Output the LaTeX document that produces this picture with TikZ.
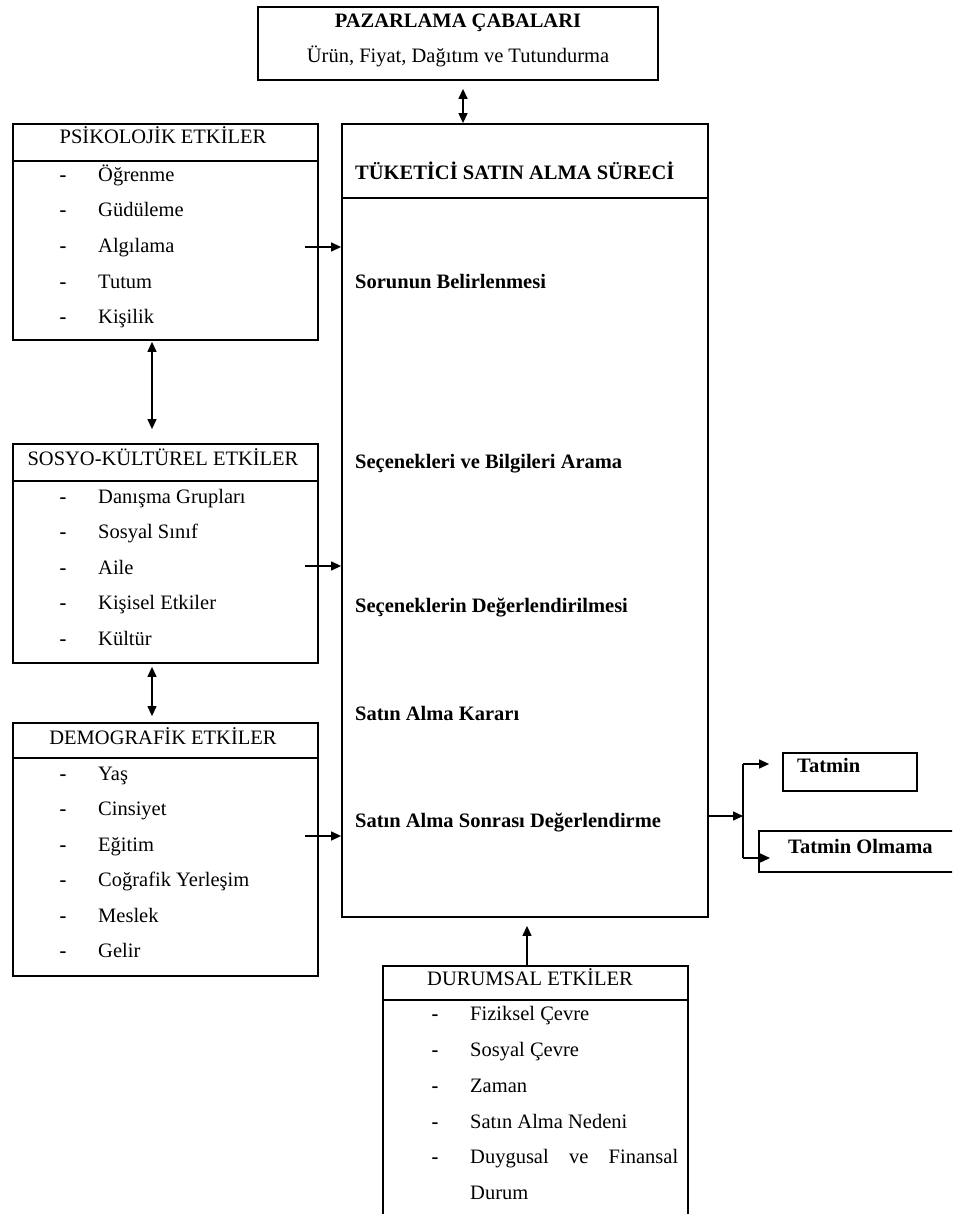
\documentclass[tikz,border=0pt]{standalone}
\usepackage{fontspec}
\setmainfont{Liberation Serif}
\usetikzlibrary{arrows.meta}
\newcommand{\dfont}{\fontsize{20.5}{24}\selectfont}
\tikzset{
  box/.style={draw, line width=1.8pt, rectangle, inner sep=0pt},
  divider/.style={line width=1.8pt},
  txt/.style={anchor=base west, inner sep=0pt, font=\dfont},
  btxt/.style={anchor=base west, inner sep=0pt, font=\dfont\bfseries},
  ctxt/.style={anchor=base, inner sep=0pt, font=\dfont},
  cbtxt/.style={anchor=base, inner sep=0pt, font=\dfont\bfseries},
  dashmark/.style={anchor=base, inner sep=0pt, font=\dfont\bfseries},
  conn/.style={line width=1.3pt, -{Triangle[length=10pt,width=9pt]}},
  dconn/.style={line width=1.3pt, {Triangle[length=10pt,width=9pt]}-{Triangle[length=10pt,width=9pt]}},
  plain/.style={line width=1.3pt},
}
\begin{document}
\begin{tikzpicture}[x=1pt,y=-1pt]
\useasboundingbox (0,0) rectangle (952,1214);
\clip (0,0) rectangle (952,1214);

% ---- boxes
\node[box, minimum width=400pt, minimum height=73pt] (paz) at (458,43.5) {};
\node[box, minimum width=366pt, minimum height=793pt] (main) at (525,520.5) {};
\node[box, minimum width=305pt, minimum height=216pt] (psi) at (165.5,232) {};
\node[box, minimum width=305pt, minimum height=219pt] (sos) at (165.5,553.5) {};
\node[box, minimum width=305pt, minimum height=253pt] (dem) at (165.5,849.5) {};
\node[box, minimum width=305pt, minimum height=264pt] (dur) at (535.5,1098) {};
\node[box, minimum width=134pt, minimum height=38pt] (tat) at (850,772) {};
\node[box, minimum width=231pt, minimum height=41pt] (olm) at (874.5,851.5) {};

% ---- header dividers
\draw[divider] ([yshift=-75pt]main.north west) -- ([yshift=-75pt]main.north east);
\draw[divider] ([yshift=-38pt]psi.north west) -- ([yshift=-38pt]psi.north east);
\draw[divider] ([yshift=-38pt]sos.north west) -- ([yshift=-38pt]sos.north east);
\draw[divider] ([yshift=-36pt]dem.north west) -- ([yshift=-36pt]dem.north east);
\draw[divider] ([yshift=-35pt]dur.north west) -- ([yshift=-35pt]dur.north east);

% ---- marketing box
\node[cbtxt] (pazt) at (458,28) {PAZARLAMA ÇABALARI};
\node[ctxt] (pazs) at (458,63) {Ürün, Fiyat, Dağıtım ve Tutundurma};

% ---- main process
\node[btxt] (mt) at (355,180) {TÜKETİCİ SATIN ALMA SÜRECİ};
\node[btxt] (m1) at (355,288) {Sorunun Belirlenmesi};
\node[btxt] (m2) at (355,468) {Seçenekleri ve Bilgileri Arama};
\node[btxt] (m3) at (355,612) {Seçeneklerin Değerlendirilmesi};
\node[btxt] (m4) at (355,720) {Satın Alma Kararı};
\node[btxt] (m5) at (355,827) {Satın Alma Sonrası Değerlendirme};

% ---- psychological
\node[ctxt] (psit) at (163,144) {PSİKOLOJİK ETKİLER};
\foreach \y/\t [count=\i] in {181.5/Öğrenme, 217/Güdüleme, 252.5/Algılama, 288/Tutum, 323.5/Kişilik}{
  \node[dashmark] (psid\i) at (63,\y) {-};
  \node[txt] (psii\i) at (98,\y) {\t};
}

% ---- socio-cultural
\node[ctxt] (sost) at (163,465) {SOSYO-KÜLTÜREL ETKİLER};
\foreach \y/\t [count=\i] in {503/Danışma Grupları, 538.5/Sosyal Sınıf, 574/Aile, 609.5/Kişisel Etkiler, 645/Kültür}{
  \node[dashmark] (sosd\i) at (63,\y) {-};
  \node[txt] (sosi\i) at (98,\y) {\t};
}

% ---- demographic
\node[ctxt] (demt) at (163,744) {DEMOGRAFİK ETKİLER};
\foreach \y/\t [count=\i] in {780/Yaş, 815.5/Cinsiyet, 851/Eğitim, 886.5/Coğrafik Yerleşim, 922/Meslek, 957.5/Gelir}{
  \node[dashmark] (demd\i) at (63,\y) {-};
  \node[txt] (demi\i) at (98,\y) {\t};
}

% ---- situational
\node[ctxt] (durt) at (530,985) {DURUMSAL ETKİLER};
\foreach \y/\t [count=\i] in {1020/Fiziksel Çevre, 1056/Sosyal Çevre, 1092/Zaman, 1128/Satın Alma Nedeni}{
  \node[dashmark] (durd\i) at (435,\y) {-};
  \node[txt] (duri\i) at (470,\y) {\t};
}
\node[dashmark] (durd5) at (435,1163.5) {-};
\node[txt] (duri5) at (470,1163.5) {\makebox[208pt][l]{Duygusal\hfill ve\hfill Finansal}};
\node[txt] (duri6) at (470,1199) {Durum};

% ---- outcomes
\node[btxt] (tatt) at (797,772) {Tatmin};
\node[btxt] (olmt) at (788,853) {Tatmin Olmama};

% ---- connectors
\draw[dconn] ([xshift=5pt,yshift=-8pt]paz.south) -- ([xshift=-62pt]main.north);

\coordinate (a1) at (305,247);
\coordinate (a2) at (305,566);
\coordinate (a3) at (305,836);
\draw[conn] (a1) -- (a1 -| main.west);
\draw[conn] (a2) -- (a2 -| main.west);
\draw[conn] (a3) -- (a3 -| main.west);

\draw[dconn] ([xshift=-13.5pt,yshift=-1pt]psi.south) -- ([xshift=-13.5pt,yshift=14pt]sos.north);
\draw[dconn] ([xshift=-13.5pt,yshift=-3pt]sos.south) -- ([xshift=-13.5pt,yshift=6pt]dem.north);

\draw[conn] ([xshift=-8.5pt]dur.north) -- ([xshift=2pt,yshift=-8pt]main.south);

\coordinate (sp) at (743,816);
\coordinate (spt) at (743,764);
\coordinate (spb) at (743,858);
\coordinate (tb) at (770,858);
\draw[conn] (sp -| main.east) -- (sp);
\draw[plain] (spt) -- (spb);
\draw[conn, shorten >=13pt] (spt) -- (spt -| tat.west);
\draw[conn] (spb) -- (tb);
\end{tikzpicture}
\end{document}
